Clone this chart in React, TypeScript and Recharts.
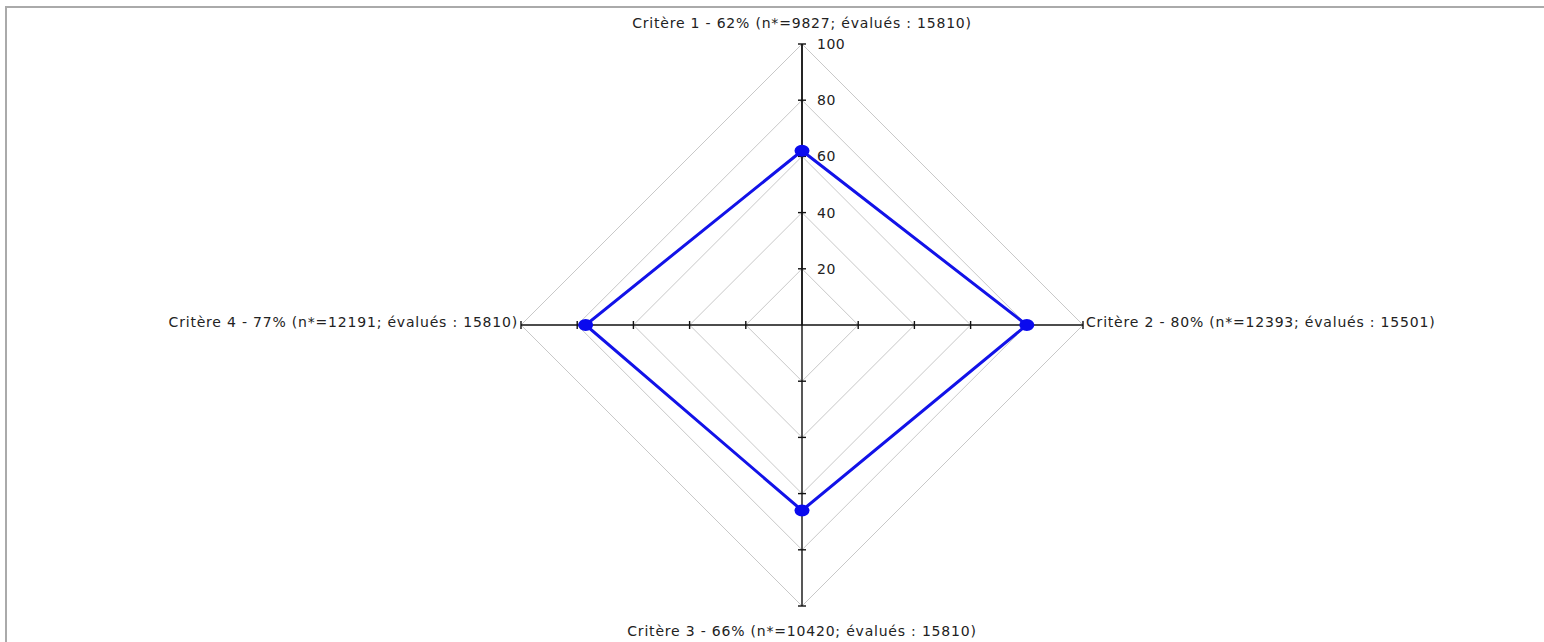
import React from 'react';
import { RadarChart, Radar, PolarGrid, PolarAngleAxis, PolarRadiusAxis } from 'recharts';

const categories = [
  'Critère 1 - 62% (n*=9827; évalués : 15810)',
  'Critère 2 - 80% (n*=12393; évalués : 15501)',
  'Critère 3 - 66% (n*=10420; évalués : 15810)',
  'Critère 4 - 77% (n*=12191; évalués : 15810)',
];
const values = [62, 80, 66, 77];
const radiusTicks = [0, 20, 40, 60, 80, 100];

const data = categories.map((c, i) => ({ name: c, value: values[i] }));

const FONT = 'DejaVu Sans, sans-serif';
const CX = 802;
const CY = 325;
const R = 281;

const AngleTick = (props: any) => {
  const { x, y, payload } = props;
  const idx = categories.indexOf(payload.value);
  let tx = x, ty = y, anchor: any = 'middle';
  if (idx === 0) { ty = y - 8; anchor = 'middle'; }
  else if (idx === 1) { tx = x - 5; ty = y + 2; anchor = 'start'; }
  else if (idx === 2) { ty = y + 22; anchor = 'middle'; }
  else { tx = x + 5; ty = y + 2; anchor = 'end'; }
  return (
    <text x={tx} y={ty} textAnchor={anchor} fontFamily={FONT} fontSize={14} letterSpacing={0.8} fill="#222">
      {payload.value}
    </text>
  );
};

// Tick renderer on the vertical (Critère 1) radius axis; it also draws the
// perpendicular tick marks of the three other axes at the same radius.
const RadiusTick = (props: any) => {
  const { x, y, payload } = props;
  if (payload.value === 0) return <g />;
  const cx = typeof props.cx === 'number' ? props.cx : CX;
  const cy = typeof props.cy === 'number' ? props.cy : CY;
  const r = cy - y;
  const s = 4;
  const st = { stroke: '#111', strokeWidth: 1.4 };
  return (
    <g>
      <line x1={x - s} y1={y} x2={x + s} y2={y} {...st} />
      <line x1={cx - s} y1={cy + r} x2={cx + s} y2={cy + r} {...st} />
      <line x1={cx + r} y1={cy - s} x2={cx + r} y2={cy + s} {...st} />
      <line x1={cx - r} y1={cy - s} x2={cx - r} y2={cy + s} {...st} />
      <text x={x + 15} y={y + 5} textAnchor="start" fontFamily={FONT} fontSize={14} letterSpacing={0.5} fill="#222">
        {payload.value}
      </text>
    </g>
  );
};

const Dot = (props: any) => {
  const { cx, cy } = props;
  return <ellipse cx={cx} cy={cy} rx={7.5} ry={6} fill="#0a0aee" />;
};

export default function App() {
  return (
    <div style={{ position: 'absolute', left: 0, top: 0, width: 1544, height: 642, background: '#fff', overflow: 'hidden' }}>
      <div style={{ position: 'absolute', left: 5, top: 6, width: 1600, height: 700, borderTop: '2px solid #aaa', borderLeft: '2px solid #aaa' }} />
      <RadarChart
        width={1544}
        height={642}
        data={data}
        cx={CX}
        cy={CY}
        outerRadius={R}
        startAngle={90}
        endAngle={-270}
        style={{ position: 'absolute', left: 0, top: 0 }}
      >
        <PolarGrid gridType="polygon" radialLines={false} stroke="#c8c8c8" strokeWidth={1} />
        <PolarGrid gridType="polygon" radialLines={true} polarRadius={[]} stroke="#111" strokeWidth={1.4} />
        <PolarAngleAxis dataKey="name" axisLine={false} tickLine={false} tick={<AngleTick />} />
        <PolarRadiusAxis
          angle={90}
          domain={[0, 100]}
          ticks={radiusTicks}
          tickCount={6}
          axisLine={{ stroke: '#111', strokeWidth: 1.4 }}
          tick={<RadiusTick />}
          tickLine={false}
        />
        <Radar
          dataKey="value"
          stroke="#1212e8"
          strokeWidth={3}
          fill="none"
          fillOpacity={0}
          dot={<Dot />}
          isAnimationActive={false}
        />
      </RadarChart>
    </div>
  );
}
